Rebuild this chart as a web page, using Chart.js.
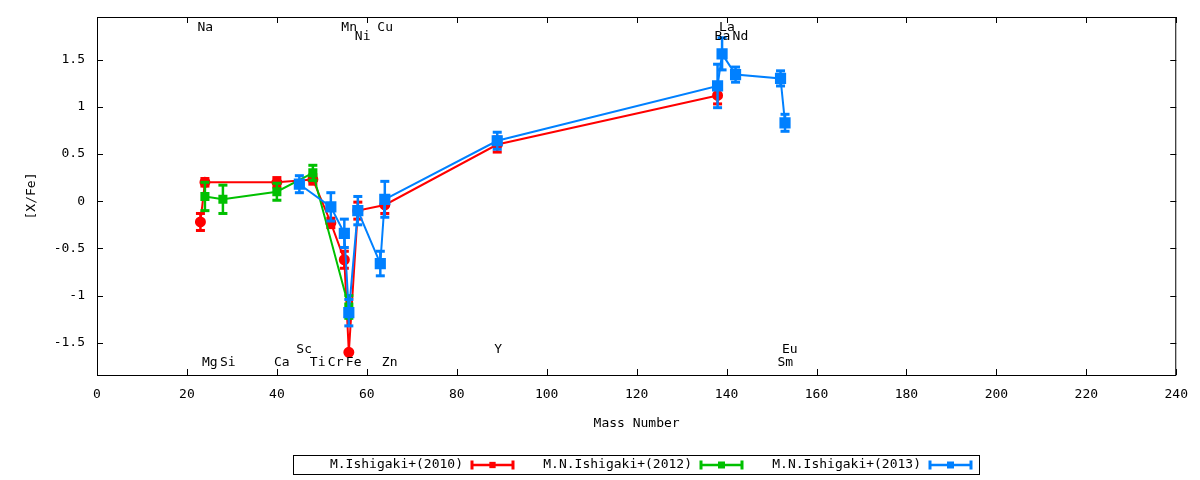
<!DOCTYPE html>
<html lang="en">
<head>
    <meta charset="UTF-8">
    <title>[X/Fe] vs Mass Number</title>
    <script src="https://cdn.jsdelivr.net/npm/chart.js"></script>
    <style>
        * { margin: 0; padding: 0; box-sizing: border-box; }
        body { background: #fff; }
        .wrap { width: 1200px; height: 480px; }
    </style>
</head>
<body>
<div class="wrap"><canvas id="abund" width="1200" height="480"></canvas></div>
<script>
    // M.Ishigaki+(2010)
    const redMass = [23, 24, 40, 48, 52, 55, 56, 58, 64, 89, 138];
    const redVal  = [-0.22, 0.20, 0.20, 0.23, -0.23, -0.62, -1.60, -0.10, -0.04, 0.60, 1.12];
    const redErr  = [0.09, 0.04, 0.05, 0.05, 0.05, 0.09, 0.01, 0.09, 0.09, 0.08, 0.09];

    // M.N.Ishigaki+(2012)
    const greenMass = [24, 28, 40, 48, 56];
    const greenVal  = [0.05, 0.02, 0.10, 0.30, -1.12];
    const greenErr  = [0.15, 0.15, 0.09, 0.08, 0.12];

    // M.N.Ishigaki+(2013)
    const blueMass = [45, 52, 55, 56, 58, 63, 64, 89, 138, 139, 142, 152, 153];
    const blueVal  = [0.18, -0.06, -0.34, -1.18, -0.10, -0.66, 0.02, 0.64, 1.22, 1.56, 1.34, 1.30, 0.83];
    const blueErr  = [0.09, 0.15, 0.15, 0.14, 0.15, 0.13, 0.19, 0.09, 0.23, 0.17, 0.08, 0.08, 0.09];

    const seriesNames = ['M.Ishigaki+(2010)', 'M.N.Ishigaki+(2012)', 'M.N.Ishigaki+(2013)'];

    // element name labels placed at their mass number
    const elemNames = ['Na', 'Mn', 'Cu', 'La', 'Ni', 'Ba', 'Nd',
                       'Mg', 'Si', 'Ca', 'Ti', 'Cr', 'Fe', 'Zn', 'Sm',
                       'Sc', 'Y', 'Eu'];
    const elemMass  = [23, 55, 63, 139, 58, 138, 142,
                       24, 28, 40, 48, 52, 56, 64, 152,
                       45, 89, 153];
    const elemY     = [1.84, 1.84, 1.84, 1.84, 1.74, 1.74, 1.74,
                       -1.71, -1.71, -1.71, -1.71, -1.71, -1.71, -1.71, -1.71,
                       -1.57, -1.57, -1.57];

    const xTicks = [0, 20, 40, 60, 80, 100, 120, 140, 160, 180, 200, 220, 240];
    const yTicks = [-1.5, -1, -0.5, 0, 0.5, 1, 1.5];
    const yTickLabels = ['-1.5', '-1', '-0.5', '0', '0.5', '1', '1.5'];

    const FONT = "'DejaVu Sans Mono', monospace";
    Chart.defaults.font.family = FONT;
    Chart.defaults.font.size = 13;
    Chart.defaults.color = '#000';

    const toPoints = (xs, ys) => xs.map((m, i) => ({ x: m, y: ys[i] }));

    // vertical error bars with caps, drawn right after each dataset
    const errorBars = {
        id: 'errorBars',
        afterDatasetDraw(chart, args) {
            const ds = chart.data.datasets[args.index];
            if (!ds.errors) return;
            const { x, y } = chart.scales;
            const ctx = chart.ctx;
            ctx.save();
            ctx.strokeStyle = ds.borderColor;
            ctx.fillStyle = ds.borderColor;
            ctx.lineWidth = 2.5;
            ds.data.forEach((p, i) => {
                const px = x.getPixelForValue(p.x);
                const top = y.getPixelForValue(p.y + ds.errors[i]);
                const bot = y.getPixelForValue(p.y - ds.errors[i]);
                ctx.beginPath();
                ctx.moveTo(px, top);
                ctx.lineTo(px, bot);
                ctx.stroke();
                ctx.fillRect(px - 4.5, top - 1.5, 9, 3);
                ctx.fillRect(px - 4.5, bot - 1.5, 9, 3);
            });
            ctx.restore();
        }
    };

    // gnuplot-like frame with inward ticks on all four sides
    const frame = {
        id: 'frame',
        beforeDatasetsDraw(chart) {
            const { ctx, chartArea: a } = chart;
            const { x, y } = chart.scales;
            ctx.save();
            ctx.strokeStyle = '#000';
            ctx.lineWidth = 1;
            ctx.strokeRect(a.left + 0.5, a.top + 0.5, a.right - a.left - 1, a.bottom - a.top);
            ctx.beginPath();
            xTicks.forEach(v => {
                const px = Math.round(x.getPixelForValue(v)) + 0.5;
                ctx.moveTo(px, a.bottom); ctx.lineTo(px, a.bottom - 6);
                ctx.moveTo(px, a.top); ctx.lineTo(px, a.top + 6);
            });
            yTicks.forEach(v => {
                const py = Math.round(y.getPixelForValue(v)) + 0.5;
                ctx.moveTo(a.left, py); ctx.lineTo(a.left + 6, py);
                ctx.moveTo(a.right, py); ctx.lineTo(a.right - 6, py);
            });
            ctx.stroke();
            ctx.restore();
        }
    };

    const elemLabels = {
        id: 'elemLabels',
        afterDraw(chart) {
            const { ctx } = chart;
            const { x, y } = chart.scales;
            ctx.save();
            ctx.font = '13px ' + FONT;
            ctx.fillStyle = '#000';
            ctx.textAlign = 'left';
            ctx.textBaseline = 'middle';
            elemNames.forEach((n, i) => {
                ctx.fillText(n, x.getPixelForValue(elemMass[i]) - 3, y.getPixelForValue(elemY[i]));
            });
            ctx.restore();
        }
    };

    // boxed key below the plot: text first, then the line sample
    const keyBox = {
        id: 'keyBox',
        afterDraw(chart) {
            const { ctx } = chart;
            const textEnd = [463, 692, 921];
            const cy = 465;
            ctx.save();
            ctx.strokeStyle = '#000';
            ctx.lineWidth = 1;
            ctx.strokeRect(293.5, 455.5, 686, 19);
            ctx.font = '13px ' + FONT;
            ctx.textAlign = 'right';
            ctx.textBaseline = 'middle';
            chart.data.datasets.forEach((ds, i) => {
                ctx.fillStyle = '#000';
                ctx.fillText(ds.label, textEnd[i], cy);
                const x0 = textEnd[i] + 9, x1 = x0 + 41;
                ctx.strokeStyle = ds.borderColor;
                ctx.fillStyle = ds.borderColor;
                ctx.lineWidth = 2.5;
                ctx.beginPath();
                ctx.moveTo(x0, cy); ctx.lineTo(x1, cy);
                ctx.stroke();
                ctx.fillRect(x0 - 1.5, cy - 4.5, 3, 9);
                ctx.fillRect(x1 - 1.5, cy - 4.5, 3, 9);
                const r = Math.min(ds.pointRadius, 5);
                ctx.fillRect((x0 + x1) / 2 - r * 0.7, cy - r * 0.7, r * 1.4, r * 1.4);
            });
            ctx.restore();
        }
    };

    new Chart(document.getElementById('abund'), {
        type: 'scatter',
        data: {
            datasets: [
                {
                    label: seriesNames[0],
                    data: toPoints(redMass, redVal),
                    errors: redErr,
                    borderColor: '#ff0000',
                    backgroundColor: '#ff0000',
                    showLine: true,
                    borderWidth: 2,
                    pointStyle: 'circle',
                    pointRadius: 4.5,
                    order: 3
                },
                {
                    label: seriesNames[1],
                    data: toPoints(greenMass, greenVal),
                    errors: greenErr,
                    borderColor: '#00c000',
                    backgroundColor: '#00c000',
                    showLine: true,
                    borderWidth: 2,
                    pointStyle: 'rect',
                    pointRadius: 5,
                    order: 2
                },
                {
                    label: seriesNames[2],
                    data: toPoints(blueMass, blueVal),
                    errors: blueErr,
                    borderColor: '#0080ff',
                    backgroundColor: '#0080ff',
                    showLine: true,
                    borderWidth: 2,
                    pointStyle: 'rect',
                    pointRadius: 6.5,
                    order: 1
                }
            ]
        },
        options: {
            responsive: false,
            animation: false,
            layout: { padding: { left: 0, right: 23, top: 17, bottom: 0 } },
            plugins: {
                legend: { display: false },
                tooltip: { enabled: false }
            },
            scales: {
                x: {
                    type: 'linear',
                    min: 0,
                    max: 240,
                    grid: { display: false, drawTicks: false },
                    border: { display: false },
                    afterBuildTicks: s => { s.ticks = xTicks.map(v => ({ value: v })); },
                    afterFit: s => { s.height = 105; },
                    ticks: { padding: 12, maxRotation: 0, autoSkip: false },
                    title: { display: true, text: 'Mass Number', padding: { top: 0, bottom: 49 } }
                },
                y: {
                    min: -1.84,
                    max: 1.95,
                    grid: { display: false, drawTicks: false },
                    border: { display: false },
                    afterBuildTicks: s => { s.ticks = yTicks.map(v => ({ value: v })); },
                    afterFit: s => {
                        s.width = 97;
                        s.paddingTop = 0;
                        s.paddingBottom = 0;
                    },
                    ticks: {
                        padding: 12,
                        callback: v => yTickLabels[yTicks.indexOf(v)]
                    },
                    title: { display: true, text: '[X/Fe]', padding: { top: 24, bottom: 0 } }
                }
            }
        },
        plugins: [frame, errorBars, elemLabels, keyBox]
    });
</script>
</body>
</html>
